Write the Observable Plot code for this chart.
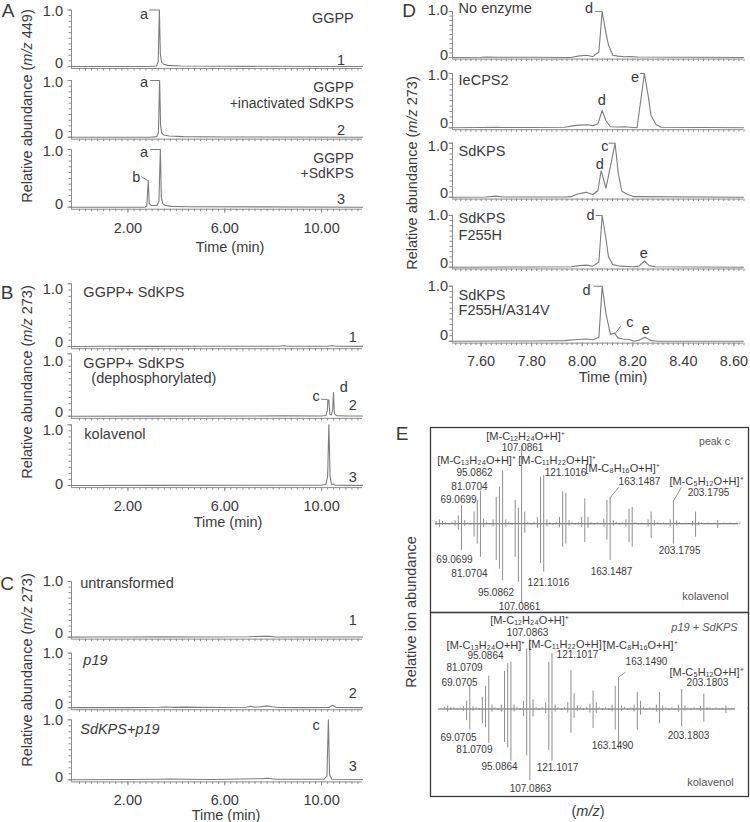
<!DOCTYPE html>
<html><head><meta charset="utf-8">
<script src="https://cdn.jsdelivr.net/npm/d3@7"></script>
<script src="https://cdn.jsdelivr.net/npm/@observablehq/plot@0.6"></script>
<style>
body{margin:0;background:#fff;}
#fig{position:relative;width:750px;height:822px;overflow:hidden;font-family:"Liberation Sans",Arial,Helvetica,sans-serif;color:#3a3a3a;}
.lbl{position:absolute;white-space:nowrap;line-height:1;transform:translate(-50%,-50%);}
.rot{transform:translate(-50%,-50%) rotate(-90deg);}
</style></head>
<body><div id="fig"></div>
<script>
// ================= DATA =================
// Panel A: traces at m/z 449, [time (min), relative abundance]
const A1 = [[-0.33,0],[2.9,0],[3.18,0.01],[3.25,0.08],[3.30,1.0],[3.34,0.22],[3.39,0.08],[3.47,0.04],[3.65,0.02],[4.2,0.01],[6.0,0.004],[11.69,0]];
const A2 = [[-0.33,0],[2.9,0],[3.19,0.01],[3.26,0.08],[3.31,1.0],[3.35,0.2],[3.40,0.07],[3.48,0.04],[3.7,0.02],[4.3,0.01],[6.0,0.004],[11.69,0]];
const A3 = [[-0.33,0],[2.70,0],[2.78,0.02],[2.84,0.46],[2.88,0.07],[2.96,0.03],[3.08,0.03],[3.20,0.03],[3.28,0.1],[3.34,1.0],[3.38,0.18],[3.44,0.06],[3.55,0.03],[3.8,0.015],[4.5,0.008],[11.69,0]];
// Panel B: m/z 273
const B1 = [[-0.33,0],[1.0,0.003],[3.0,0.002],[5.0,0.003],[8.2,0.003],[8.44,0.012],[8.6,0.004],[10.2,0.003],[10.44,0.012],[10.6,0.003],[11.69,0.002]];
const B2 = [[-0.33,0],[3.0,0.002],[8.44,0.005],[10.0,0.004],[10.18,0.01],[10.24,0.1],[10.26,0.26],[10.30,0.26],[10.34,0.03],[10.41,0.02],[10.46,0.12],[10.49,0.38],[10.53,0.04],[10.62,0.01],[11.0,0.004],[11.69,0.002]];
const B3 = [[-0.33,0],[3.0,0.002],[8.44,0.004],[10.0,0.004],[10.18,0.02],[10.25,0.15],[10.30,1.0],[10.35,0.15],[10.41,0.02],[10.50,0.025],[10.56,0.005],[11.69,0.002]];
// Panel C: m/z 273
const C1 = [[-0.33,0.002],[0.5,0.004],[2.0,0.003],[3.5,0.006],[5.0,0.004],[7.0,0.007],[7.6,0.018],[7.85,0.015],[8.1,0.004],[10.3,0.004],[11.69,0.003]];
const C2 = [[-0.33,0.003],[2.0,0.004],[3.3,0.01],[3.6,0.015],[3.9,0.008],[4.3,0.012],[5.0,0.007],[6.0,0.006],[6.9,0.01],[7.05,0.03],[7.25,0.01],[7.55,0.025],[7.75,0.035],[7.95,0.02],[8.2,0.006],[9.2,0.004],[10.3,0.006],[10.45,0.045],[10.6,0.006],[11.69,0.004]];
const C3 = [[-0.33,0.002],[2.0,0.004],[3.3,0.01],[3.7,0.012],[4.4,0.008],[5.5,0.006],[7.6,0.02],[7.8,0.025],[8.05,0.008],[10.1,0.01],[10.22,0.06],[10.28,1.0],[10.33,0.08],[10.42,0.01],[11.69,0.004]];
// Panel D: m/z 273, 7.5–8.6 min
const D1 = [[7.487,0],[7.60,0.005],[7.62,0.01],[7.66,0.005],[7.80,0.005],[7.956,0.0],[7.982,0.03],[8.015,0.05],[8.042,0.02],[8.066,0.12],[8.079,1.0],[8.094,0.53],[8.104,0.27],[8.121,0.05],[8.141,0.03],[8.167,0.015],[8.19,0.02],[8.22,0.01],[8.638,0]];
const D2 = [[7.487,0],[7.60,0.005],[7.65,0.01],[7.70,0.005],[7.80,0.005],[7.93,0.01],[7.969,0.04],[7.989,0.05],[8.022,0.055],[8.042,0.04],[8.062,0.07],[8.079,0.32],[8.094,0.13],[8.112,0.02],[8.14,0.015],[8.167,0.02],[8.19,0.01],[8.217,0],[8.246,1.0],[8.262,0.56],[8.272,0.23],[8.292,0.06],[8.312,0.01],[8.638,0]];
const D3 = [[7.487,0],[7.62,0.005],[7.657,0.02],[7.69,0.005],[7.85,0.005],[7.93,0.005],[7.956,0.01],[7.982,0.06],[8.015,0.09],[8.042,0.05],[8.062,0.12],[8.075,0.49],[8.094,0.17],[8.114,0.62],[8.130,1.0],[8.143,0.43],[8.157,0.11],[8.180,0.05],[8.206,0.01],[8.638,0]];
const D4 = [[7.487,0],[7.80,0.005],[7.956,0.01],[7.99,0.03],[8.02,0.04],[8.042,0.02],[8.066,0.1],[8.079,1.0],[8.094,0.55],[8.104,0.2],[8.121,0.05],[8.15,0.02],[8.20,0.01],[8.225,0.02],[8.246,0.12],[8.265,0.03],[8.29,0.01],[8.638,0]];
const D5 = [[7.487,0],[7.80,0.005],[7.93,0.01],[7.98,0.03],[8.015,0.04],[8.042,0.025],[8.066,0.07],[8.079,1.0],[8.094,0.5],[8.112,0.12],[8.128,0.15],[8.141,0.06],[8.161,0.04],[8.187,0.03],[8.206,0.0],[8.226,0.02],[8.249,0.07],[8.273,0.01],[8.30,0.0],[8.638,0]];
// Panel E: mirrored MS/MS spectra [m/z, relative intensity]
const peakC = [[53.0,0.03],[55.05,0.05],[57.07,0.03],[65.04,0.04],[67.05,0.1],[69.07,0.23],[71.08,0.04],[77.04,0.15],[79.05,0.3],[81.07,0.42],[83.09,0.06],[89.06,0.05],[91.05,0.34],[93.07,0.47],[95.09,0.68],[97.1,0.05],[103.05,0.3],[105.07,0.2],[107.09,1.0],[109.1,0.15],[117.07,0.08],[119.09,0.6],[121.1,0.62],[123.12,0.05],[131.09,0.08],[133.1,0.41],[135.1,0.39],[137.13,0.04],[145.1,0.08],[147.1,0.32],[149.13,0.08],[159.12,0.06],[161.1,0.3],[163.15,0.34],[165.15,0.04],[173.13,0.05],[175.1,0.19],[177.1,0.21],[187.15,0.05],[189.1,0.15],[191.15,0.04],[201.16,0.05],[203.18,0.3],[205.2,0.04],[215.2,0.03],[217.2,0.15],[219.2,0.02],[231.2,0.04],[245.2,0.01]];
const kolavenolTop = [[53.0,0.02],[55.05,0.05],[57.07,0.02],[65.04,0.03],[67.05,0.08],[69.07,0.34],[71.08,0.03],[77.04,0.17],[79.05,0.26],[81.07,0.43],[83.09,0.05],[89.06,0.04],[91.05,0.47],[93.07,0.58],[95.09,0.73],[97.1,0.04],[103.05,0.43],[105.07,0.75],[107.09,1.03],[109.1,0.12],[117.07,0.06],[119.09,0.51],[121.1,0.62],[123.12,0.04],[131.09,0.05],[133.1,0.3],[135.1,0.26],[137.13,0.03],[145.1,0.05],[147.1,0.24],[149.13,0.06],[159.12,0.04],[161.1,0.21],[163.15,0.47],[165.15,0.03],[173.13,0.04],[175.1,0.24],[177.1,0.3],[187.15,0.04],[189.1,0.19],[191.15,0.03],[201.16,0.04],[203.18,0.26],[205.2,0.03],[215.2,0.03],[217.2,0.17],[219.2,0.02],[231.2,0.06],[245.2,0.01]];
const p19SdKPS = [[53.0,0.02],[55.05,0.04],[57.07,0.02],[65.04,0.03],[67.05,0.1],[69.07,0.29],[71.08,0.03],[77.04,0.15],[79.05,0.29],[81.07,0.42],[83.09,0.05],[89.06,0.05],[91.05,0.48],[93.07,0.58],[95.09,0.6],[97.1,0.05],[103.05,0.1],[105.07,0.77],[107.09,0.9],[109.1,0.12],[117.07,0.08],[119.09,0.6],[121.1,0.71],[123.12,0.05],[131.09,0.08],[133.1,0.49],[135.1,0.2],[137.13,0.04],[145.1,0.06],[147.1,0.23],[149.13,0.08],[159.12,0.05],[161.1,0.29],[163.15,0.4],[165.15,0.04],[173.13,0.05],[175.1,0.21],[177.1,0.1],[187.15,0.05],[189.1,0.21],[191.15,0.04],[201.16,0.05],[203.18,0.25],[205.2,0.04],[215.2,0.03],[217.2,0.19],[219.2,0.02],[231.2,0.04],[245.2,0.01]];
const kolavenolBottom = [[53.0,0.02],[55.05,0.04],[57.07,0.02],[65.04,0.03],[67.05,0.15],[69.07,0.27],[71.08,0.03],[77.04,0.19],[79.05,0.24],[81.07,0.44],[83.09,0.04],[89.06,0.04],[91.05,0.43],[93.07,0.5],[95.09,0.67],[97.1,0.04],[103.05,0.1],[105.07,0.6],[107.09,0.92],[109.1,0.1],[117.07,0.06],[119.09,0.53],[121.1,0.67],[123.12,0.04],[131.09,0.05],[133.1,0.31],[135.1,0.12],[137.13,0.03],[145.1,0.05],[147.1,0.25],[149.13,0.06],[159.12,0.04],[161.1,0.27],[163.15,0.52],[165.15,0.03],[173.13,0.04],[175.1,0.27],[177.1,0.08],[187.15,0.04],[189.1,0.19],[191.15,0.03],[201.16,0.04],[203.18,0.23],[205.2,0.03],[215.2,0.03],[217.2,0.17],[219.2,0.02],[231.2,0.06],[245.2,0.01]];
const noiseTop = [[59,0.015],[61,-0.01],[63,0.02],[73,0.015],[75,-0.015],[85,0.02],[87,-0.015],[99,0.02],[101,-0.02],[111,0.02],[113,-0.015],[115,0.02],[125,0.015],[127,-0.02],[129,0.015],[139,0.02],[141,-0.015],[143,0.015],[151,0.02],[153,-0.015],[155,0.015],[157,-0.01],[167,0.02],[169,-0.015],[171,0.01],[179,0.015],[181,-0.015],[183,0.01],[185,-0.01],[193,0.015],[195,-0.01],[197,0.01],[199,-0.01],[207,0.015],[209,-0.01],[211,0.01],[213,-0.01],[221,0.01],[223,-0.01],[225,0.01],[227,-0.01],[229,0.01],[233,-0.01],[235,0.01],[237,-0.01],[239,0.01],[241,-0.01],[243,0.01]];
const noiseBottom = [[51,0.01],[59,0.02],[61,-0.015],[63,0.02],[73,0.02],[75,-0.02],[85,0.02],[87,-0.02],[99,0.025],[101,-0.02],[111,0.02],[113,-0.02],[115,0.02],[125,0.02],[127,-0.02],[129,0.02],[139,0.02],[141,-0.02],[143,0.02],[151,0.02],[153,-0.02],[155,0.02],[157,-0.015],[167,0.02],[169,-0.02],[171,0.015],[179,0.02],[181,-0.015],[183,0.015],[185,-0.015],[193,0.015],[195,-0.015],[197,0.015],[199,-0.015],[207,0.015],[209,-0.015],[211,0.015],[213,-0.01],[221,0.015],[223,-0.01],[225,0.015],[227,-0.01],[229,0.01],[233,-0.01],[235,0.01]];
const eBaseTop = [52.6, 244.4];
const eBaseBottom = [49.3, 237.3];

// Tick values
const xTicksABC = [2, 6, 10];
const xTicksD = [7.6, 7.8, 8.0, 8.2, 8.4, 8.6];

// ================= RENDERING =================
const fig = document.getElementById("fig");
const TXT = "#3a3a3a", AX = "#8c8c8c", LINE = "#7c7c7c";
const FONT = '"Liberation Sans", Arial, Helvetica, sans-serif';
const STYLE = `font-family:${FONT};font-size:14.5px;background:transparent;overflow:visible;color:${TXT};`;

function put(node, left, top) {
  node.style.position = "absolute";
  node.style.left = left + "px";
  node.style.top = top + "px";
  fig.appendChild(node);
}
function html(txt, x, y, size, cls) {
  const d = document.createElement("div");
  d.className = "lbl " + (cls || "");
  d.style.left = x + "px"; d.style.top = y + "px"; d.style.fontSize = size + "px";
  d.innerHTML = txt;
  fig.appendChild(d);
}
function textMarks(list) {
  return list.map(d => Plot.text([d], {
    x: d => d[0], y: d => d[1], text: d => d[2],
    textAnchor: d[3] || "middle", lineAnchor: "middle",
    fontStyle: d[4] ? "italic" : "normal", fontSize: d[5] || 14.5, fill: d[6] || TXT
  }));
}

function chrom(o) {
  const ymin = o.ymin ?? -0.035;
  const span = o.y0 - o.y1;
  const top = Math.floor(o.y1 - 18);
  const frameBottom = o.y0 - ymin * span;
  const height = Math.ceil(frameBottom - top + (o.major ? 34 : 10));
  const pad = o.yPad ?? 5;
  const svg = Plot.plot({
    width: o.x1px + 10 - o.left,
    height,
    marginLeft: o.x0px - o.left,
    marginRight: 10,
    marginTop: o.y1 - top,
    marginBottom: top + height - frameBottom,
    x: {domain: o.xd},
    y: {domain: [ymin, 1]},
    style: STYLE,
    marks: [
      Plot.ruleY([ymin], {stroke: AX}),
      Plot.ruleX([o.xd[0]], {stroke: AX}),
      Plot.axisX({ticks: o.minor, tickSize: 2.5, tickFormat: () => "", label: null, stroke: AX}),
      Plot.axisY({ticks: d3.range(0, 1.0001, 0.1), tickSize: 2.5, tickFormat: () => "", label: null, stroke: AX}),
      Plot.axisY({ticks: [0, 1], tickSize: 3.5, tickFormat: () => "", label: null, stroke: AX}),
      Plot.axisY({ticks: [0], tickSize: 3.5, tickPadding: pad, dy: o.zeroDy ?? -3, tickFormat: () => "0", label: null, stroke: "transparent", fill: TXT}),
      Plot.axisY({ticks: [1], tickSize: 3.5, tickPadding: pad, dy: o.oneDy ?? 0, tickFormat: () => "1.0", label: null, stroke: "transparent", fill: TXT}),
      o.major ? Plot.axisX({ticks: o.major, tickSize: 4, tickPadding: o.xPad ?? 9, tickFormat: d3.format(".2f"), label: null, stroke: AX, fill: TXT}) : null,
      Plot.line(o.data, {x: d => d[0], y: d => d[1], stroke: LINE, strokeWidth: 1.1}),
      o.links ? Plot.link(o.links, {x1: d => d[0], y1: d => d[1], x2: d => d[2], y2: d => d[3], stroke: LINE, strokeWidth: 1}) : null,
      ...textMarks(o.texts || [])
    ]
  });
  put(svg, o.left, top);
}

// ---- Panels A/B/C ----
const XD = [-0.33, 11.69];
const minorABC = d3.range(0, 11.7, 0.25);
const common = {left: 0, x0px: 71, x1px: 362, xd: XD, minor: minorABC};

chrom({...common, data: A1, y1: 9.5, y0: 66, oneDy: 1,
  texts: [[11.33, 0.85, "GGPP", "end"], [10.8, 0.11, "1"], [2.67, 0.93, "a"]],
  links: [[2.87, 1.0, 3.30, 1.0]]});
chrom({...common, data: A2, y1: 80, y0: 136.7, oneDy: 2,
  texts: [[11.33, 0.875, "GGPP", "end", false, 14], [11.33, 0.6, "+inactivated SdKPS", "end", false, 14], [10.8, 0.12, "2"], [2.67, 0.96, "a"]],
  links: [[2.92, 1.0, 3.31, 1.0]]});
chrom({...common, data: A3, y1: 149, y0: 206.7, oneDy: 1.5, major: xTicksABC,
  texts: [[11.33, 0.845, "GGPP", "end", false, 14], [11.33, 0.58, "+SdKPS", "end", false, 14], [10.8, 0.13, "3"], [2.67, 0.95, "a"], [2.35, 0.51, "b"]],
  links: [[2.92, 1.0, 3.34, 1.0], [2.55, 0.53, 2.83, 0.46]]});

chrom({...common, data: B1, y1: 283.3, y0: 346, oneDy: 6, zeroDy: -4,
  texts: [[0.16, 0.86, "GGPP+ SdKPS", "start"], [11.29, 0.14, "1"]]});
chrom({...common, data: B2, y1: 353.3, y0: 415.7, oneDy: 8, zeroDy: -4,
  texts: [[0.16, 0.85, "GGPP+ SdKPS", "start"], [0.49, 0.6, "(dephosphorylated)", "start"], [11.29, 0.17, "2"], [9.77, 0.32, "c"], [10.92, 0.46, "d"]],
  links: [[9.98, 0.27, 10.25, 0.27]]});
chrom({...common, data: B3, y1: 424.3, y0: 485, oneDy: 6, zeroDy: -1.5, major: xTicksABC,
  texts: [[0.2, 0.84, "kolavenol", "start"], [11.29, 0.13, "3"]]});

chrom({...common, data: C1, y1: 581, y0: 636.7, zeroDy: -4,
  texts: [[0.03, 0.96, "untransformed", "start"], [11.29, 0.3, "1"]]});
chrom({...common, data: C2, y1: 652.7, y0: 707.3, zeroDy: -3,
  texts: [[0.16, 0.87, "p19", "start", true], [11.29, 0.26, "2"]]});
chrom({...common, data: C3, y1: 719.3, y0: 779.3, oneDy: 1, zeroDy: -2, major: xTicksABC,
  texts: [[0.03, 0.84, "SdKPS+p19", "start", true], [11.29, 0.22, "3"], [9.77, 0.9, "c"]]});

// ---- Panel D ----
const commonD = {left: 370, x0px: 452, x1px: 743, xd: [7.487, 8.638], minor: d3.range(7.50, 8.64, 0.02), yPad: 1};
chrom({...commonD, data: D1, y1: 11, y0: 57, oneDy: -1, zeroDy: -2,
  texts: [[7.511, 1.07, "No enzyme", "start"], [8.027, 1.07, "d"]],
  links: [[8.052, 1.0, 8.078, 1.0]]});
chrom({...commonD, data: D2, y1: 73, y0: 127.3, oneDy: 2, zeroDy: -4,
  texts: [[7.511, 0.87, "IeCPS2", "start"], [8.077, 0.5, "d"], [8.209, 0.93, "e"]],
  links: [[8.228, 1.0, 8.246, 1.0]]});
chrom({...commonD, data: D3, y1: 142.7, y0: 196.7, oneDy: 3, zeroDy: -3.5,
  texts: [[7.511, 0.85, "SdKPS", "start"], [8.090, 0.94, "c"], [8.070, 0.61, "d"]],
  links: [[8.104, 1.0, 8.130, 1.0]]});
chrom({...commonD, data: D4, y1: 215, y0: 266.7, oneDy: 0, zeroDy: -4,
  texts: [[7.511, 0.94, "SdKPS", "start"], [7.511, 0.61, "F255H", "start"], [8.033, 1.0, "d"], [8.244, 0.26, "e"]],
  links: [[8.053, 1.0, 8.078, 1.0]]});
chrom({...commonD, data: D5, y1: 285.7, y0: 340.7, oneDy: 0, zeroDy: -6, major: xTicksD,
  texts: [[7.511, 0.83, "SdKPS", "start"], [7.511, 0.56, "F255H/A314V", "start"], [8.017, 0.92, "d"], [8.189, 0.35, "c"], [8.251, 0.21, "e"]],
  links: [[8.045, 1.0, 8.078, 1.0], [8.152, 0.27, 8.130, 0.14]]});

// ---- Panel E ----
const numTop = [
  [107.7, 0.98, "107.0861"], [77.3, 0.66, "95.0862"], [74.1, 0.48, "81.0704"], [67.2, 0.31, "69.0699"],
  [134.9, 0.66, "121.1016"], [181.7, 0.54, "163.1487"], [225.4, 0.40, "203.1795"],
  [64.6, -0.46, "69.0699"], [74.1, -0.64, "81.0704"], [90.9, -0.89, "95.0862"], [105.8, -1.06, "107.0861"],
  [124.1, -0.75, "121.1016"], [164.0, -0.61, "163.1487"], [207.1, -0.35, "203.1795"]
].map(d => [...d, "middle", false, 10]);
const ionTop = [
  [109.6, 1.12, "[M-C₁₂H₂₄O+H]⁺"], [78.6, 0.81, "[M-C₁₃H₂₄O+H]⁺"], [129.6, 0.81, "[M-C₁₁H₂₂O+H]⁺"],
  [171.0, 0.71, "[M-C₈H₁₆O+H]⁺"], [224.1, 0.54, "[M-C₅H₁₂O+H]⁺"]
].map(d => [...d, "middle", false, 11]);
const eTopNotes = [[229.2, 1.05, "peak c", "middle", false, 10.5, "#555"], [223.5, -0.93, "kolavenol", "middle", false, 11, "#555"]];
const numBot = [
  [105.6, 0.98, "107.0863"], [79.0, 0.68, "95.0864"], [65.7, 0.53, "81.0709"], [62.6, 0.34, "69.0705"],
  [137.2, 0.69, "121.1017"], [180.9, 0.60, "163.1490"], [219.5, 0.33, "203.1803"],
  [61.9, -0.37, "69.0705"], [72.0, -0.52, "81.0709"], [87.9, -0.74, "95.0864"], [124.6, -0.75, "121.1017"],
  [107.5, -1.02, "107.0863"], [159.4, -0.47, "163.1490"], [207.5, -0.35, "203.1803"]
].map(d => [...d, "middle", false, 10]);
const ionBot = [
  [106.9, 1.13, "[M-C₁₂H₂₄O+H]⁺"], [79.3, 0.82, "[M-C₁₃H₂₄O+H]⁺"], [130.6, 0.83, "[M-C₁₁H₂₂O+H]⁺"],
  [177.0, 0.82, "[M-C₈H₁₆O+H]⁺"], [218.9, 0.47, "[M-C₅H₁₂O+H]⁺"]
].map(d => [...d, "middle", false, 11]);
const eBotNotes = [[217.6, 1.04, "p19 + SdKPS", "middle", true, 11, "#555"], [221.4, -0.94, "kolavenol", "middle", false, 11, "#555"]];

function spectrum(o) {
  const svg = Plot.plot({
    width: 318, height: o.h, marginTop: 0, marginRight: 0, marginBottom: 0, marginLeft: 0,
    x: {domain: o.xd, axis: null}, y: {domain: o.yd, axis: null},
    style: STYLE,
    marks: [
      Plot.ruleX(o.noise, {x: d => d[0], y1: 0, y2: d => d[1], stroke: "#8a8a8a", strokeWidth: 0.8}),
      Plot.ruleY([0], {x1: o.base[0], x2: o.base[1], stroke: "#5e5e5e", strokeWidth: 1.1}),
      Plot.ruleX(o.up, {x: d => d[0], y1: 0, y2: d => d[1], stroke: "#8e8e8e", strokeWidth: 1}),
      Plot.ruleX(o.down, {x: d => d[0], y1: 0, y2: d => -d[1], stroke: "#8e8e8e", strokeWidth: 1}),
      Plot.link(o.links, {x1: d => d[0], y1: d => d[1], x2: d => d[2], y2: d => d[3], stroke: "#777", strokeWidth: 0.8}),
      ...textMarks(o.texts),
      Plot.frame({stroke: "#3a3a3a", strokeWidth: 1.3})
    ]
  });
  put(svg, 430, o.top);
}
spectrum({top: 427, h: 185, xd: [49.45, 250.7], yd: [-1.137, 1.235], base: eBaseTop, noise: noiseTop,
  up: peakC, down: kolavenolTop, texts: [...numTop, ...ionTop, ...eTopNotes],
  links: [[168.6, 0.47, 163.4, 0.34], [208.3, 0.47, 203.4, 0.30]]});
spectrum({top: 612, h: 184, xd: [44.2, 245.47], yd: [-1.122, 1.237], base: eBaseBottom, noise: noiseBottom,
  up: p19SdKPS, down: kolavenolBottom, texts: [...numBot, ...ionBot, ...eBotNotes],
  links: [[167.6, 0.47, 163.4, 0.41]]});

// ---- Panel letters and axis titles ----
html("A", 8, 10, 19); html("B", 7, 292, 19); html("C", 7, 583, 19); html("D", 409, 10, 19); html("E", 402, 433, 19);
html("Relative abundance (<i>m/z</i> 449)", 27, 106, 14.5, "rot");
html("Relative abundance (<i>m/z</i> 273)", 27, 382, 14.5, "rot");
html("Relative abundance (<i>m/z</i> 273)", 27, 670, 14.5, "rot");
html("Relative abundance (<i>m/z</i> 273)", 412, 173, 14.5, "rot");
html("Relative ion abundance", 411, 612, 14.5, "rot");
html("Time (min)", 230, 247, 14.5); html("Time (min)", 228, 522, 14.5); html("Time (min)", 226, 815, 14.5);
html("Time (min)", 613, 377, 14.5);
html("(<i>m/z</i>)", 588, 811, 14.5);
</script></body></html>
